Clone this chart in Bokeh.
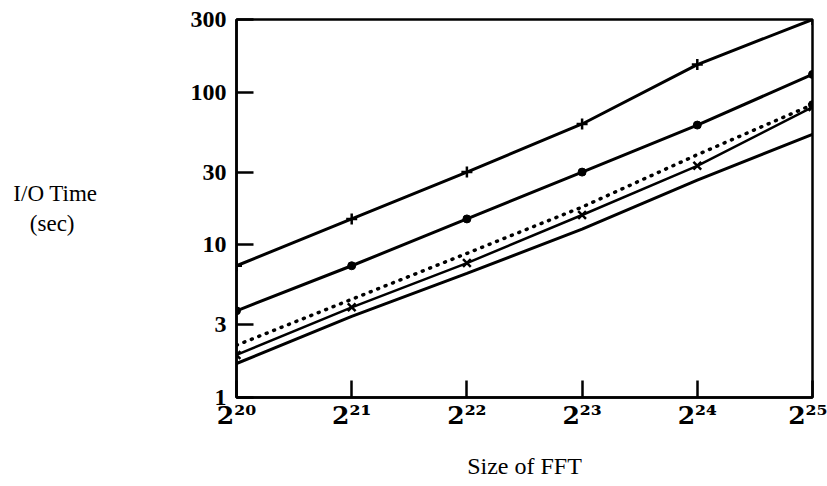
from bokeh.plotting import figure
from bokeh.models import FixedTicker
from bokeh.embed import file_html
from bokeh.resources import INLINE

# FFT sizes (exponents of 2)
exponents = [20, 21, 22, 23, 24, 25]
sizes = [2 ** e for e in exponents]

# I/O time (sec) for five configurations
series_plus = [7.3, 14.8, 30.0, 62.0, 152.0, 300.0]
series_dot = [3.7, 7.3, 14.8, 30.0, 61.0, 131.0]
series_dotted = [2.2, 4.4, 8.8, 17.7, 39.0, 83.0]
series_x = [1.9, 3.9, 7.6, 15.7, 33.0, 80.0]
series_plain = [1.67, 3.4, 6.5, 12.7, 26.6, 53.0]

y_ticks = [1, 3, 10, 30, 100, 300]
x_tick_labels = ["2²⁰", "2²¹", "2²²", "2²³", "2²⁴", "2²⁵"]

FONT = "Liberation Serif"
SUP_FONT = "DejaVu Serif"

p = figure(width=827, height=486, x_axis_type="log", y_axis_type="log",
           x_range=(sizes[0], sizes[-1]), y_range=(1, 300),
           output_backend="svg", toolbar_location=None,
           min_border_left=236, min_border_right=15,
           min_border_top=19, min_border_bottom=89)

p.background_fill_color = "white"
p.border_fill_color = "white"
p.outline_line_color = "black"
p.outline_line_width = 2.5
p.grid.visible = False

lw = 3
p.line(sizes, series_plus, line_color="black", line_width=lw)
p.scatter(sizes, series_plus, marker="cross", size=11, line_color="black", line_width=2.5)

p.line(sizes, series_dot, line_color="black", line_width=lw)
p.scatter(sizes, series_dot, marker="circle", size=8, fill_color="black", line_color="black")

p.line(sizes, series_dotted, line_color="black", line_width=3.5, line_dash="1 7", line_cap="round")
p.scatter(sizes[-1:], series_dotted[-1:], marker="circle", size=8, fill_color="black", line_color="black")

p.line(sizes, series_x, line_color="black", line_width=2.5)
p.scatter(sizes, series_x, marker="x", size=11, line_color="black", line_width=2.5)

p.line(sizes, series_plain, line_color="black", line_width=lw)

# axes
p.xaxis.ticker = FixedTicker(ticks=sizes)
p.xaxis.major_label_overrides = {s: lab for s, lab in zip(sizes, x_tick_labels)}
p.yaxis.ticker = FixedTicker(ticks=y_ticks)
p.yaxis.major_label_overrides = {t: str(t) for t in y_ticks}
p.xaxis.minor_tick_line_color = None
p.yaxis.minor_tick_line_color = None

for ax in (p.xaxis, p.yaxis):
    ax.axis_line_color = "black"
    ax.axis_line_width = 2.5
    ax.major_tick_line_color = "black"
    ax.major_tick_line_width = 2.5
    ax.major_tick_in = 17
    ax.major_tick_out = 0
    ax.major_label_text_font_style = "bold"
    ax.major_label_text_color = "black"
    ax.axis_label_text_font = FONT
    ax.axis_label_text_font_style = "normal"
    ax.axis_label_text_color = "black"

p.xaxis.major_label_text_font = SUP_FONT
p.xaxis.major_label_text_font_size = "25px"
p.xaxis.major_label_standoff = 3
p.yaxis.major_label_text_font = FONT
p.yaxis.major_label_text_font_size = "24px"
p.yaxis.major_label_standoff = 10

p.xaxis.axis_label = "Size of FFT"
p.xaxis.axis_label_text_font_size = "24px"
p.xaxis.axis_label_standoff = 20

# horizontal two-line title; trailing no-break spaces centre the short line
p.yaxis.axis_label = "I/O Time\n(sec)" + "\u00a0" * 4
p.yaxis.axis_label_orientation = "horizontal"
p.yaxis.axis_label_text_font_size = "23px"
p.yaxis.axis_label_standoff = 90

open("out.html", "w").write(file_html(p, INLINE))
